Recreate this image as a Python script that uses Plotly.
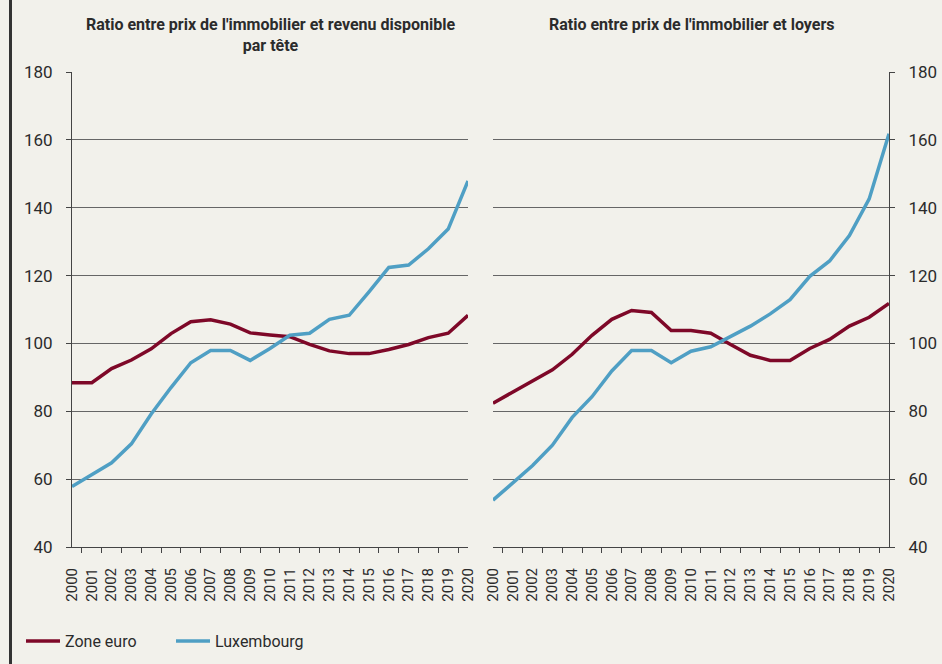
import plotly.graph_objects as go

years = [str(y) for y in range(2000, 2021)]

# Ratio entre prix de l'immobilier et revenu disponible par tête
euro_revenu = [88.4, 88.4, 92.6, 95.1, 98.4, 102.9, 106.4, 107.0, 105.7, 103.1, 102.5,
               102.0, 99.7, 97.8, 97.0, 97.0, 98.2, 99.7, 101.7, 103.0, 108.3]
lux_revenu = [57.8, 61.4, 64.8, 70.4, 79.2, 87.0, 94.3, 97.9, 97.9, 95.0, 98.5,
              102.4, 103.0, 107.1, 108.3, 115.2, 122.4, 123.1, 127.9, 133.7, 147.9]

# Ratio entre prix de l'immobilier et loyers
euro_loyers = [82.4, 85.6, 88.8, 92.2, 96.8, 102.4, 107.1, 109.7, 109.1, 103.8, 103.8,
               103.0, 99.7, 96.5, 95.0, 95.0, 98.5, 101.2, 105.1, 107.7, 111.8]
lux_loyers = [53.8, 58.8, 64.0, 70.0, 78.2, 84.3, 91.9, 97.9, 97.9, 94.3, 97.7,
              99.0, 102.0, 105.1, 108.7, 112.9, 119.8, 124.3, 131.8, 142.6, 161.8]

titles = ["Ratio entre prix de l'immobilier et revenu disponible<br>par tête",
          "Ratio entre prix de l'immobilier et loyers"]
y_ticks = [40, 60, 80, 100, 120, 140, 160, 180]

euro_color = "#7e0828"
lux_color = "#4f9fc4"
bg = "#f2f1eb"
txt = "#2b2b2b"
font_family = "Roboto, 'DejaVu Sans', sans-serif"

W, H = 942, 664
fig = go.Figure()

fig.add_trace(go.Scatter(x=years, y=euro_revenu, mode="lines", name="Zone euro",
                         line=dict(color=euro_color, width=3.5), xaxis="x", yaxis="y"))
fig.add_trace(go.Scatter(x=years, y=lux_revenu, mode="lines", name="Luxembourg",
                         line=dict(color=lux_color, width=3.5), xaxis="x", yaxis="y"))
fig.add_trace(go.Scatter(x=years, y=euro_loyers, mode="lines", name="Zone euro", showlegend=False,
                         line=dict(color=euro_color, width=3.5), xaxis="x2", yaxis="y2"))
fig.add_trace(go.Scatter(x=years, y=lux_loyers, mode="lines", name="Luxembourg", showlegend=False,
                         line=dict(color=lux_color, width=3.5), xaxis="x2", yaxis="y2"))

ydom = [1 - 547 / H, 1 - 72 / H]
xcommon = dict(type="category", tickson="boundaries", ticks="outside", ticklen=5,
               tickcolor="#444", showline=True, linecolor="#444", linewidth=1,
               showgrid=False, zeroline=False, tickangle=-90, automargin=False,
               ticklabelstandoff=14,
               tickfont=dict(size=15, color=txt, family=font_family), fixedrange=True)
ycommon = dict(range=[40, 180], tickvals=y_ticks, ticks="outside", ticklen=5,
               tickcolor="#444", showline=True, linecolor="#444", linewidth=1,
               showgrid=True, gridcolor="#666666", gridwidth=1, zeroline=False,
               automargin=False, fixedrange=True,
               tickfont=dict(size=17, color=txt, family=font_family), ticklabelstandoff=10)

fig.update_layout(
    width=W, height=H,
    margin=dict(l=0, r=0, t=0, b=0, autoexpand=False),
    paper_bgcolor=bg, plot_bgcolor=bg,
    font=dict(family=font_family, color=txt),
    xaxis=dict(domain=[72 / W, 468 / W], anchor="y", **xcommon),
    yaxis=dict(domain=ydom, anchor="x", side="left", **ycommon),
    xaxis2=dict(domain=[493 / W, 889 / W], anchor="y2", **xcommon),
    yaxis2=dict(domain=ydom, anchor="x2", side="right", **ycommon),
    legend=dict(orientation="h", x=21 / W, y=(H - 641) / H, xanchor="left", yanchor="middle",
                bgcolor="rgba(0,0,0,0)", font=dict(size=16, color=txt, family=font_family),
                entrywidth=101, entrywidthmode="pixels", itemwidth=34),
    showlegend=True,
    hovermode=False,
)

fig.add_annotation(text="<b>" + titles[0].replace("<br>", "</b><br><b>") + "</b>",
                   x=270 / W, y=1 - 13 / H, xref="paper", yref="paper",
                   xanchor="center", yanchor="top", showarrow=False,
                   font=dict(size=16, color=txt, family=font_family), align="center")
fig.add_annotation(text="<b>" + titles[1] + "</b>",
                   x=691 / W, y=1 - 13 / H, xref="paper", yref="paper",
                   xanchor="center", yanchor="top", showarrow=False,
                   font=dict(size=16, color=txt, family=font_family), align="center")

# left frame border
fig.add_shape(type="line", xref="paper", yref="paper", x0=10.5 / W, x1=10.5 / W, y0=0, y1=1,
              line=dict(color="#333", width=3))

fig.write_html("out.html", config={"displayModeBar": False},
               post_script="document.body.style.margin='0px';")
